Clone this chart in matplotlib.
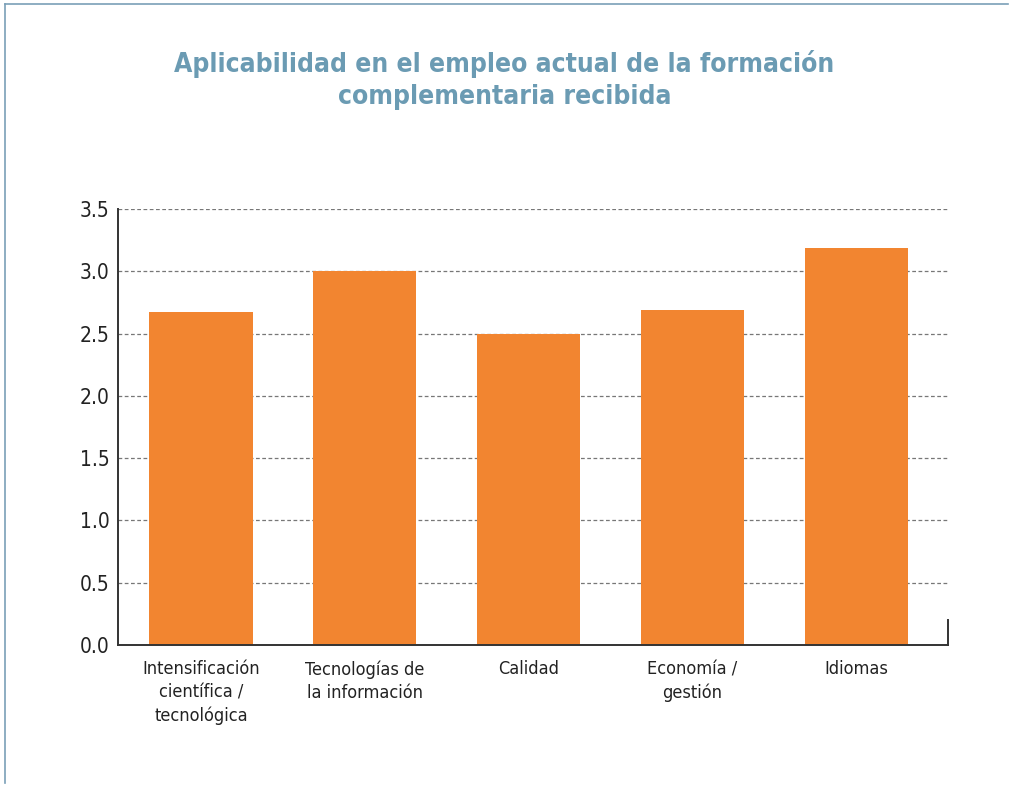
import matplotlib
matplotlib.use("Agg")
import matplotlib.pyplot as plt
from matplotlib.lines import Line2D

# applicability score per type of complementary training
categories = ["Intensificación\ncientífica /\ntecnológica", "Tecnologías de\nla información",
              "Calidad", "Economía /\ngestión", "Idiomas"]
values = [2.67, 3.00, 2.50, 2.69, 3.19]
yticks = [0.0, 0.5, 1.0, 1.5, 2.0, 2.5, 3.0, 3.5]

font = ["DejaVu Sans"]
orange = "#f28530"
frame_blue = "#7aa0b8"

fig = plt.figure(figsize=(10.09, 7.85), dpi=100)
ax = fig.add_axes([118 / 1009, 1 - 645 / 785, (948 - 118) / 1009, (645 - 209) / 785])

x = list(range(len(categories)))
ax.bar(x, values, width=0.63, color=orange, zorder=2)

ax.set_ylim(0, 3.5)
ax.set_xlim(-0.506, 4.56)
ax.set_yticks(yticks)
ax.set_yticklabels([f"{v:.1f}" for v in yticks], fontsize=15, family=font, stretch="condensed", color="#222222")
ax.set_xticks(x)
ax.set_xticklabels(categories, fontsize=13, family=font, stretch="condensed", color="#222222", linespacing=1.35)
ax.tick_params(axis="both", length=0)
ax.tick_params(axis="y", pad=6)
ax.tick_params(axis="x", pad=11)

ax.yaxis.grid(True, linestyle=(0, (3, 2)), color="#777777", linewidth=0.9, zorder=1)
for s in ["top", "right"]:
    ax.spines[s].set_visible(False)
for s in ["left", "bottom"]:
    ax.spines[s].set_color("#333333")
    ax.spines[s].set_linewidth(1.4)
ax.set_axisbelow(True)

# short upright stub at the right end of the x axis
ax.plot([1, 1], [0, 0.057], transform=ax.transAxes, color="#333333", lw=1.4, clip_on=False)

fig.text(0.5, 1 - 80 / 785, "Aplicabilidad en el empleo actual de la formación\ncomplementaria recibida",
         ha="center", va="center", fontsize=19, fontweight="bold", family=font, stretch="condensed",
         color="#6b9bb3", linespacing=1.25)

# thin frame along the top and left edges
fig.add_artist(Line2D([5 / 1009, 1008 / 1009], [1 - 4 / 785, 1 - 4 / 785], color=frame_blue, lw=1.2))
fig.add_artist(Line2D([5 / 1009, 5 / 1009], [1 - 4 / 785, 1 - 783 / 785], color=frame_blue, lw=1.2))

fig.savefig("out.png", dpi=100)
